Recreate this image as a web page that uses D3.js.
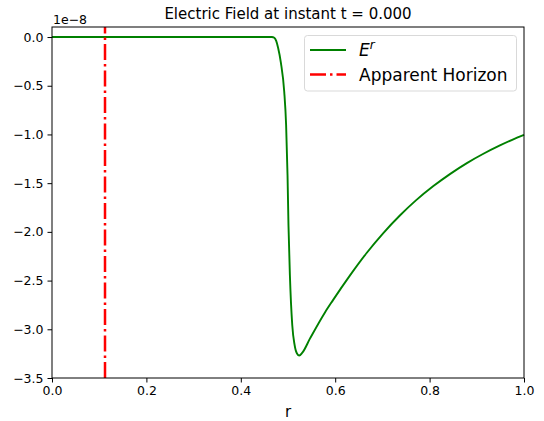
<!DOCTYPE html>
<html>
<head>
<meta charset="utf-8">
<script src="https://cdn.jsdelivr.net/npm/d3@7"></script>
<style>
  body { margin: 0; background: white; }
  text { font-family: "DejaVu Sans", sans-serif; fill: black; }
</style>
</head>
<body>
<div id="chart"></div>
<script>
// radial coordinate r and field E^r (units of 1e-8)
var rVals = [0, 0.466, 0.471, 0.475, 0.479, 0.485, 0.492, 0.496, 0.499, 0.501, 0.504, 0.509, 0.514, 0.519, 0.524,
  0.530, 0.547, 0.578, 0.595, 0.631, 0.667, 0.701, 0.737, 0.771, 0.808, 0.843, 0.879, 0.913, 0.949, 0.975, 1.0];
var eVals = [0, 0, -0.008, -0.04, -0.11, -0.265, -0.56, -0.903, -1.416, -1.930, -2.443, -2.956, -3.161, -3.248, -3.269,
  -3.243, -3.091, -2.829, -2.703, -2.449, -2.214, -2.017, -1.832, -1.677, -1.530, -1.407, -1.294, -1.201, -1.113, -1.055, -1.004];
var horizonR = 0.1123;
var xTicks = [0.0, 0.2, 0.4, 0.6, 0.8, 1.0];
var yTicks = [0.0, -0.5, -1.0, -1.5, -2.0, -2.5, -3.0, -3.5];

var W = 544, H = 421;
var m = {left: 52, right: 524, top: 27, bottom: 378};

var svg = d3.select("#chart").append("svg")
  .attr("width", W).attr("height", H);

var x = d3.scaleLinear().domain([0, 1]).range([m.left, m.right]);
var y = d3.scaleLinear().domain([-3.5, 0.103]).range([m.bottom, m.top]);

var fmt = function(d) { return d3.format(".1f")(d).replace("-", "\u2212"); };

// axes
svg.append("g")
  .attr("transform", "translate(0," + m.bottom + ")")
  .call(d3.axisBottom(x).tickValues(xTicks).tickFormat(fmt).tickSize(4.5).tickPadding(4))
  .call(function(g) {
    g.select(".domain").remove();
    g.selectAll("text").attr("font-size", 12.5).attr("font-family", "DejaVu Sans");
    g.selectAll("line").attr("stroke-width", 1);
  });

svg.append("g")
  .attr("transform", "translate(" + m.left + ",0)")
  .call(d3.axisLeft(y).tickValues(yTicks).tickFormat(fmt).tickSize(4.5).tickPadding(4))
  .call(function(g) {
    g.select(".domain").remove();
    g.selectAll("text").attr("font-size", 12.5).attr("font-family", "DejaVu Sans");
    g.selectAll("line").attr("stroke-width", 1);
  });

// data
var line = d3.line()
  .x(function(d, i) { return x(rVals[i]); })
  .y(function(d, i) { return y(eVals[i]); })
  .curve(d3.curveMonotoneX);

svg.append("path")
  .datum(rVals)
  .attr("d", line)
  .attr("fill", "none")
  .attr("stroke", "green")
  .attr("stroke-width", 1.9);

svg.append("line")
  .attr("x1", x(horizonR)).attr("x2", x(horizonR))
  .attr("y1", m.bottom).attr("y2", m.top)
  .attr("stroke", "red")
  .attr("stroke-width", 2.5)
  .attr("stroke-dasharray", "16,4,2.5,4");

// frame
svg.append("rect")
  .attr("x", m.left).attr("y", m.top)
  .attr("width", m.right - m.left).attr("height", m.bottom - m.top)
  .attr("fill", "none").attr("stroke", "black").attr("stroke-width", 1);

// offset text
svg.append("text").attr("x", 53).attr("y", 23.5)
  .attr("font-size", 12.5).text("1e\u22128");

// title & label
svg.append("text").attr("x", (m.left + m.right) / 2).attr("y", 19)
  .attr("text-anchor", "middle").attr("font-size", 15).text("Electric Field at instant t = 0.000");

svg.append("text").attr("x", (m.left + m.right) / 2).attr("y", 417)
  .attr("text-anchor", "middle").attr("font-size", 15).text("r");

// legend
var leg = svg.append("g");
leg.append("rect")
  .attr("x", 304.5).attr("y", 35.5).attr("width", 212).attr("height", 55.5)
  .attr("rx", 3).attr("fill", "white").attr("fill-opacity", 0.8)
  .attr("stroke", "#d9d9d9").attr("stroke-width", 1);

leg.append("line").attr("x1", 310).attr("x2", 346).attr("y1", 50).attr("y2", 50)
  .attr("stroke", "green").attr("stroke-width", 1.9);
leg.append("line").attr("x1", 310).attr("x2", 346).attr("y1", 74.5).attr("y2", 74.5)
  .attr("stroke", "red").attr("stroke-width", 2.5).attr("stroke-dasharray", "16,4,2.5,4");

var t1 = leg.append("text").attr("x", 359).attr("y", 56).attr("font-size", 17);
t1.append("tspan").attr("font-style", "italic").text("E");
t1.append("tspan").attr("font-style", "italic").attr("font-size", 12).attr("dy", -7).text("r");

leg.append("text").attr("x", 359).attr("y", 80.5).attr("font-size", 17).text("Apparent Horizon");
</script>
</body>
</html>
